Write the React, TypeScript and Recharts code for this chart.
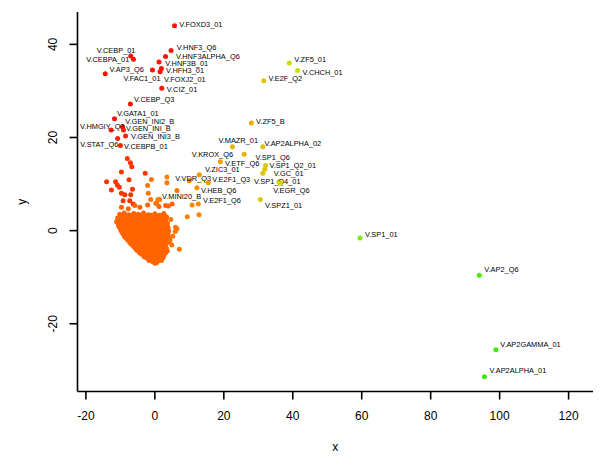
import React from 'react';
import { ScatterChart, Scatter, XAxis, YAxis } from 'recharts';

// ---- data ----
const labeledPoints = [
  { name: 'V.FOXD3_01', x: 5.7, y: 44.0, tone: 0.0 },
  { name: 'V.HNF3_Q6', x: 4.7, y: 38.7, tone: 0.0 },
  { name: 'V.HNF3ALPHA_Q6', x: 3.1, y: 37.4, tone: 0.0 },
  { name: 'V.CEBP_01', x: -7.0, y: 37.5, tone: 0.0 },
  { name: 'V.CEBPA_01', x: -6.2, y: 36.8, tone: 0.0 },
  { name: 'V.HNF3B_01', x: 1.2, y: 36.2, tone: 0.0 },
  { name: 'V.HFH3_01', x: 1.9, y: 34.8, tone: 0.0 },
  { name: 'V.FAC1_01', x: -0.7, y: 34.5, tone: 0.0 },
  { name: 'V.FOXJ2_01', x: 1.5, y: 34.1, tone: 0.0 },
  { name: 'V.AP3_Q6', x: -14.4, y: 33.7, tone: 0.0 },
  { name: 'V.CIZ_01', x: 2.0, y: 30.6, tone: 0.0 },
  { name: 'V.CEBP_Q3', x: -7.1, y: 27.2, tone: 0.0 },
  { name: 'V.GATA1_01', x: -11.7, y: 24.0, tone: 0.0 },
  { name: 'V.GEN_INI2_B', x: -9.4, y: 22.3, tone: 0.02 },
  { name: 'V.HMGIY_Q3', x: -12.7, y: 21.6, tone: 0.02 },
  { name: 'V.GEN_INI_B', x: -9.1, y: 21.6, tone: 0.02 },
  { name: 'V.GEN_INI3_B', x: -8.5, y: 20.3, tone: 0.03 },
  { name: 'V.STAT_Q6', x: -10.8, y: 19.8, tone: 0.03 },
  { name: 'V.CEBPB_01', x: -10.0, y: 18.3, tone: 0.04 },
  { name: 'V.ZF5_01', x: 39.0, y: 36.0, tone: 0.63 },
  { name: 'V.CHCH_01', x: 41.4, y: 34.4, tone: 0.63 },
  { name: 'V.E2F_Q2', x: 31.6, y: 32.2, tone: 0.52 },
  { name: 'V.ZF5_B', x: 28.0, y: 23.1, tone: 0.42 },
  { name: 'V.MAZR_01', x: 22.5, y: 18.0, tone: 0.45 },
  { name: 'V.AP2ALPHA_02', x: 31.3, y: 18.0, tone: 0.5 },
  { name: 'V.KROX_Q6', x: 25.9, y: 16.4, tone: 0.45 },
  { name: 'V.ETF_Q6', x: 19.0, y: 14.8, tone: 0.38 },
  { name: 'V.SP1_Q6', x: 32.1, y: 14.0, tone: 0.52 },
  { name: 'V.SP1_Q2_01', x: 31.9, y: 13.2, tone: 0.52 },
  { name: 'V.GC_01', x: 31.3, y: 12.3, tone: 0.52 },
  { name: 'V.SP1_Q4_01', x: 36.0, y: 10.5, tone: 0.58 },
  { name: 'V.EGR_Q6', x: 36.3, y: 10.2, tone: 0.58 },
  { name: 'V.SPZ1_01', x: 30.6, y: 6.7, tone: 0.53 },
  { name: 'V.ZIC3_01', x: 12.9, y: 12.0, tone: 0.35 },
  { name: 'V.VDR_Q3', x: 3.5, y: 11.5, tone: 0.3 },
  { name: 'V.E2F1_Q3', x: 15.5, y: 10.3, tone: 0.35 },
  { name: 'V.HEB_Q6', x: 12.2, y: 9.2, tone: 0.33 },
  { name: 'V.MINI20_B', x: 0.9, y: 6.7, tone: 0.28 },
  { name: 'V.E2F1_Q6', x: 12.6, y: 5.7, tone: 0.32 },
  { name: 'V.SP1_01', x: 59.5, y: -1.6, tone: 0.8 },
  { name: 'V.AP2_Q6', x: 94.1, y: -9.6, tone: 0.95 },
  { name: 'V.AP2GAMMA_01', x: 98.9, y: -25.6, tone: 0.97 },
  { name: 'V.AP2ALPHA_01', x: 95.6, y: -31.4, tone: 0.97 },
];

const upperTone = 0.08;
const upperPoints: [number, number][] = [
  [-8.0, 15.5], [-7.1, 14.6], [-6.7, 13.7], [-9.7, 12.6], [-14.0, 10.5], [-11.4, 10.5],
  [-10.9, 9.8], [-10.3, 9.3], [-7.5, 10.9], [-12.6, 8.7], [-9.7, 8.0], [-8.7, 7.7],
  [-7.0, 7.7], [-6.5, 8.9], [-9.2, 6.4], [-7.3, 6.4], [-6.3, 5.7], [-2.8, 12.3],
];

const midTone = 0.25;
const midPoints: [number, number][] = [
  [-1.0, 11.0], [-2.1, 9.7], [-1.9, 8.0], [-1.2, 6.7], [1.4, 6.7], [0.5, 5.9],
  [3.5, 10.3], [6.4, 8.6], [6.0, 0.7], [6.4, 0.4], [5.9, -0.2], [7.1, -4.0], [4.4, -2.0],
  [4.6, 2.4], [5.2, -1.2], [4.9, -3.1],
];

const outerTone = 0.3;
const outerPoints: [number, number][] = [
  [10.0, 10.7], [10.8, 5.5], [12.8, 3.4], [9.4, 3.0],
];

const coreTone = 0.2;
const corePoints: [number, number][] = [
  [-9.7, 5.0], [-7.7, 4.7], [-5.8, 5.4], [-4.35, 5.0], [-2.1, 5.5], [0.3, 5.9], [1.2, 5.2], [3.1, 5.4], [3.9, 5.3], [5.0, 5.7],
  [-10.2, 3.5], [-8.9, 3.8], [-7.6, 3.4], [-6.1, 3.7], [-4.8, 3.5], [-3.3, 3.8], [-1.9, 3.4], [0.0, 3.6], [1.3, 3.3], [2.6, 3.7],
  [-9.6, 3.2], [-8.2, 3.1], [-6.8, 3.3], [-5.4, 3.1], [-4.0, 3.2], [-2.6, 3.1], [-1.2, 3.3], [0.6, 3.1], [2.0, 3.2], [3.0, 3.1],
  [-10.8, 2.7], [-9.5, 2.9], [-8.2, 2.6], [-6.9, 3.0], [-5.5, 2.7], [-4.2, 2.9], [-2.8, 2.6], [-1.5, 2.9], [-0.3, 2.7], [1.0, 2.9], [2.4, 2.6], [3.4, 2.9],
  [-10.2, 2.4], [-8.9, 2.3], [-7.6, 2.5], [-6.2, 2.3], [-4.9, 2.4], [-3.5, 2.3], [-2.2, 2.5], [-0.9, 2.3], [0.4, 2.4], [1.7, 2.3], [3.0, 2.5],
  [-11.1, 1.9], [-9.9, 2.1], [-8.6, 1.8], [-7.3, 2.2], [-6.0, 1.9], [-4.6, 2.1], [-3.4, 1.8], [-2.1, 2.1], [-0.8, 1.9], [0.5, 2.2], [1.8, 1.9], [3.1, 2.1],
  [-10.5, 1.6], [-9.2, 1.5], [-7.9, 1.7], [-6.6, 1.5], [-5.3, 1.6], [-4.0, 1.5], [-2.7, 1.7], [-1.4, 1.5], [-0.1, 1.6], [1.2, 1.5], [2.5, 1.7], [3.6, 1.6],
  [-10.6, 1.2], [-9.3, 1.0], [-8.0, 1.3], [-6.7, 1.1], [-5.4, 1.3], [-4.0, 1.0], [-2.7, 1.2], [-1.4, 1.3], [-0.1, 1.0], [1.2, 1.3], [2.5, 1.1], [3.5, 1.3],
  [-10.3, 0.8], [-9.0, 0.7], [-7.7, 0.9], [-6.4, 0.7], [-5.1, 0.8], [-3.8, 0.7], [-2.5, 0.9], [-1.2, 0.7], [0.1, 0.8], [1.4, 0.7], [2.7, 0.9], [3.7, 0.8],
  [-10.0, 0.4], [-8.7, 0.5], [-7.4, 0.3], [-6.1, 0.5], [-4.8, 0.3], [-3.5, 0.6], [-2.2, 0.3], [-0.9, 0.5], [0.4, 0.3], [1.7, 0.5], [3.0, 0.3], [3.8, 0.6],
  [-9.8, 0.0], [-8.5, 0.1], [-7.2, -0.1], [-5.9, 0.0], [-4.6, 0.1], [-3.3, -0.1], [-2.0, 0.0], [-0.7, 0.1], [0.6, -0.1], [1.9, 0.0], [3.2, 0.1], [4.0, -0.1],
  [-9.5, -0.4], [-8.2, -0.3], [-6.9, -0.5], [-5.6, -0.3], [-4.3, -0.5], [-3.0, -0.3], [-1.7, -0.5], [-0.4, -0.3], [0.9, -0.5], [2.2, -0.3], [3.4, -0.5],
  [-9.1, -0.8], [-7.8, -0.9], [-6.5, -0.7], [-5.2, -0.8], [-3.9, -0.9], [-2.6, -0.7], [-1.3, -0.8], [0.0, -0.9], [1.3, -0.7], [2.6, -0.8], [3.8, -0.9],
  [-8.8, -1.3], [-7.5, -1.1], [-6.2, -1.3], [-4.9, -1.1], [-3.6, -1.3], [-2.3, -1.2], [-1.0, -1.3], [0.3, -1.1], [1.6, -1.3], [2.9, -1.1], [4.0, -1.4],
  [-8.3, -1.6], [-7.0, -1.7], [-5.7, -1.5], [-4.4, -1.6], [-3.1, -1.7], [-1.8, -1.5], [-0.5, -1.6], [0.8, -1.7], [2.1, -1.5], [3.4, -1.6],
  [-7.9, -2.0], [-6.6, -2.1], [-5.3, -1.9], [-4.0, -2.1], [-2.7, -1.9], [-1.4, -2.1], [-0.1, -1.9], [1.2, -2.1], [2.5, -1.9], [3.7, -2.1],
  [-7.4, -2.4], [-6.1, -2.3], [-4.8, -2.5], [-3.5, -2.4], [-2.2, -2.3], [-0.9, -2.5], [0.4, -2.4], [1.7, -2.3], [3.0, -2.5], [4.2, -2.4],
  [-7.0, -2.8], [-5.7, -2.7], [-4.4, -2.9], [-3.1, -2.7], [-1.8, -2.9], [-0.5, -2.7], [0.8, -2.9], [2.1, -2.7], [3.3, -2.9],
  [-6.4, -3.2], [-5.1, -3.3], [-3.8, -3.1], [-2.5, -3.2], [-1.2, -3.3], [0.1, -3.1], [1.4, -3.2], [2.7, -3.3],
  [-6.0, -3.5], [-4.7, -3.7], [-3.4, -3.5], [-2.1, -3.7], [-0.8, -3.5], [0.5, -3.7], [1.8, -3.5], [3.0, -3.7],
  [-5.5, -4.0], [-4.2, -3.9], [-2.9, -4.1], [-1.6, -4.0], [-0.3, -3.9], [1.0, -4.1], [2.3, -4.0], [3.4, -3.9],
  [-5.0, -4.3], [-3.7, -4.5], [-2.4, -4.3], [-1.1, -4.5], [0.2, -4.3], [1.5, -4.5], [2.8, -4.3], [3.6, -4.4],
  [-4.4, -4.8], [-3.1, -4.9], [-1.8, -4.7], [-0.5, -4.8], [0.8, -4.9], [2.1, -4.7], [3.1, -4.8],
  [-3.8, -5.1], [-2.5, -5.3], [-1.2, -5.1], [0.1, -5.3], [1.4, -5.1], [2.6, -5.3],
  [-3.1, -5.6], [-1.8, -5.5], [-0.5, -5.7], [0.8, -5.6], [2.0, -5.5],
  [-2.4, -5.9], [-1.1, -6.1], [0.2, -5.9], [1.5, -6.1], [2.4, -5.8],
  [-1.7, -6.4], [-0.4, -6.3], [0.9, -6.5], [1.9, -6.4],
  [-0.6, -6.7], [0.5, -6.9], [0.0, -7.0],
];

const xTicks = [-20, 0, 20, 40, 60, 80, 100, 120];
const yTicks = [-20, 0, 20, 40];
const xDomain: [number, number] = [-22.44, 127.08];
const yDomain: [number, number] = [-34.55, 46.95];

// ---- styles ----
const FONT = "'Liberation Sans', Arial, Helvetica, sans-serif";
const DOT_R = 2.5;
const LABEL_SIZE = 7.4;

// label placement (pixel offsets from the dot; text anchored at start)
const labelOffset: Record<string, [number, number]> = {
  'V.FOXD3_01': [4.7, -1], 'V.HNF3_Q6': [5.7, -3], 'V.HNF3ALPHA_Q6': [10.4, 0],
  'V.CEBP_01': [-34, -6], 'V.CEBPA_01': [-47.3, 0], 'V.HNF3B_01': [6.3, 1.3],
  'V.HFH3_01': [4.7, 2.3], 'V.FAC1_01': [-29, 9], 'V.FOXJ2_01': [4, 7.3],
  'V.AP3_Q6': [4.3, -4], 'V.CIZ_01': [5, 1.7], 'V.CEBP_Q3': [3.7, -4.7],
  'V.GATA1_01': [2.4, -5.7], 'V.GEN_INI2_B': [2.7, -5.7], 'V.HMGIY_Q3': [-31, -4],
  'V.GEN_INI_B': [2.4, -1.7], 'V.GEN_INI3_B': [5.4, 0], 'V.STAT_Q6': [-37.3, 5.7],
  'V.CEBPB_01': [3.7, 1], 'V.ZF5_01': [5, -3], 'V.CHCH_01': [5, 1.6],
  'V.E2F_Q2': [4.6, -2.4], 'V.ZF5_B': [4.7, -1.3], 'V.MAZR_01': [-14, -6],
  'V.AP2ALPHA_02': [1.6, -3], 'V.KROX_Q6': [-52.3, 0], 'V.ETF_Q6': [4.7, 1.6],
  'V.SP1_Q6': [-10, -8], 'V.SP1_Q2_01': [4.6, -3.6], 'V.GC_01': [11, 0.4],
  'V.SP1_Q4_01': [-25, -0.7], 'V.EGR_Q6': [-6.7, 7], 'V.SPZ1_01': [4.7, 6.3],
  'V.ZIC3_01': [5.7, -5], 'V.VDR_Q3': [8.3, 1.7], 'V.E2F1_Q3': [4, -2.7],
  'V.HEB_Q6': [4, 2.3], 'V.MINI20_B': [4, -3.3], 'V.E2F1_Q6': [4.7, -3.3],
  'V.SP1_01': [5, -4], 'V.AP2_Q6': [5, -6], 'V.AP2GAMMA_01': [4.3, -5.7],
  'V.AP2ALPHA_01': [5, -6.3],
};

const STOPS: [number, [number, number, number]][] = [
  [0, [255, 18, 0]],
  [0.2, [255, 100, 0]],
  [0.35, [245, 150, 0]],
  [0.45, [230, 180, 0]],
  [0.55, [215, 205, 0]],
  [0.65, [195, 228, 0]],
  [0.8, [128, 232, 20]],
  [1, [50, 238, 0]],
];

function toneColor(t: number): string {
  const v = Math.max(0, Math.min(1, t));
  for (let i = 1; i < STOPS.length; i++) {
    const [t1, c1] = STOPS[i];
    const [t0, c0] = STOPS[i - 1];
    if (v <= t1) {
      const f = (v - t0) / (t1 - t0);
      const c = c0.map((a, k) => Math.round(a + (c1[k] - a) * f));
      return `rgb(${c[0]},${c[1]},${c[2]})`;
    }
  }
  const c = STOPS[STOPS.length - 1][1];
  return `rgb(${c[0]},${c[1]},${c[2]})`;
}

const toObjs = (pts: [number, number][], tone: number) => pts.map(([x, y]) => ({ x, y, tone }));

const coreData = toObjs(corePoints, coreTone);
const upperData = toObjs(upperPoints, upperTone);
const midData = toObjs(midPoints, midTone);
const outerData = toObjs(outerPoints, outerTone);

const Dot = (p: any) => {
  const tone = p.payload?.tone ?? p.tone ?? 0.2;
  return <circle cx={p.cx} cy={p.cy} r={DOT_R} fill={toneColor(tone)} />;
};

const LabeledDot = (p: any) => {
  const d = p.payload ?? p;
  const off = labelOffset[d.name] ?? [4.5, -3];
  return (
    <g>
      <circle cx={p.cx} cy={p.cy} r={DOT_R} fill={toneColor(d.tone)} />
      <text
        x={p.cx + off[0]}
        y={p.cy + off[1]}
        fontSize={LABEL_SIZE}
        fontFamily={FONT}
        fill="#000"
        textAnchor="start"
        dominantBaseline="central"
      >
        {d.name}
      </text>
    </g>
  );
};

const XTick = (p: any) => (
  <text x={p.x} y={p.y + 14.5} textAnchor="middle" dominantBaseline="central" fontSize={12} fontFamily={FONT} fill="#000">
    {p.payload.value}
  </text>
);

const YTick = (p: any) => {
  const cx = p.x - 14.2;
  return (
    <text
      x={cx}
      y={p.y}
      transform={`rotate(-90, ${cx}, ${p.y})`}
      textAnchor="middle"
      dominantBaseline="central"
      fontSize={12}
      fontFamily={FONT}
      fill="#000"
    >
      {p.payload.value}
    </text>
  );
};

const XLabel = (p: any) => {
  const vb = p.viewBox;
  return (
    <text x={vb.x + vb.width / 2} y={vb.y + 55.5} textAnchor="middle" dominantBaseline="central" fontSize={12} fontFamily={FONT} fill="#000">
      x
    </text>
  );
};

const YLabel = (p: any) => {
  const vb = p.viewBox;
  const cx = vb.x + 21.7;
  const cy = vb.y + vb.height / 2;
  return (
    <text x={cx} y={cy} transform={`rotate(-90, ${cx}, ${cy})`} textAnchor="middle" dominantBaseline="central" fontSize={12} fontFamily={FONT} fill="#000">
      y
    </text>
  );
};

export default function App() {
  return (
    <div style={{ position: 'absolute', left: 0, top: 0, width: 600, height: 458, background: '#fff' }}>
      <ScatterChart width={600} height={458} margin={{ top: 12, right: 7, bottom: 0, left: 0 }}>
        <XAxis
          type="number"
          dataKey="x"
          domain={xDomain}
          ticks={xTicks}
          allowDataOverflow
          height={66.5}
          tickSize={8}
          axisLine={{ stroke: '#000', strokeWidth: 1.6 }}
          tickLine={{ stroke: '#000', strokeWidth: 1.6 }}
          tick={<XTick />}
          label={{ content: <XLabel /> } as any}
        />
        <YAxis
          type="number"
          dataKey="y"
          domain={yDomain}
          ticks={yTicks}
          allowDataOverflow
          width={77.5}
          tickSize={8}
          axisLine={{ stroke: '#000', strokeWidth: 1.6 }}
          tickLine={{ stroke: '#000', strokeWidth: 1.6 }}
          tick={<YTick />}
          label={{ content: <YLabel /> } as any}
        />
        <Scatter data={upperData} shape={Dot} isAnimationActive={false} />
        <Scatter data={coreData} shape={Dot} isAnimationActive={false} />
        <Scatter data={midData} shape={Dot} isAnimationActive={false} />
        <Scatter data={outerData} shape={Dot} isAnimationActive={false} />
        <Scatter data={labeledPoints} shape={LabeledDot} isAnimationActive={false} />
      </ScatterChart>
    </div>
  );
}
